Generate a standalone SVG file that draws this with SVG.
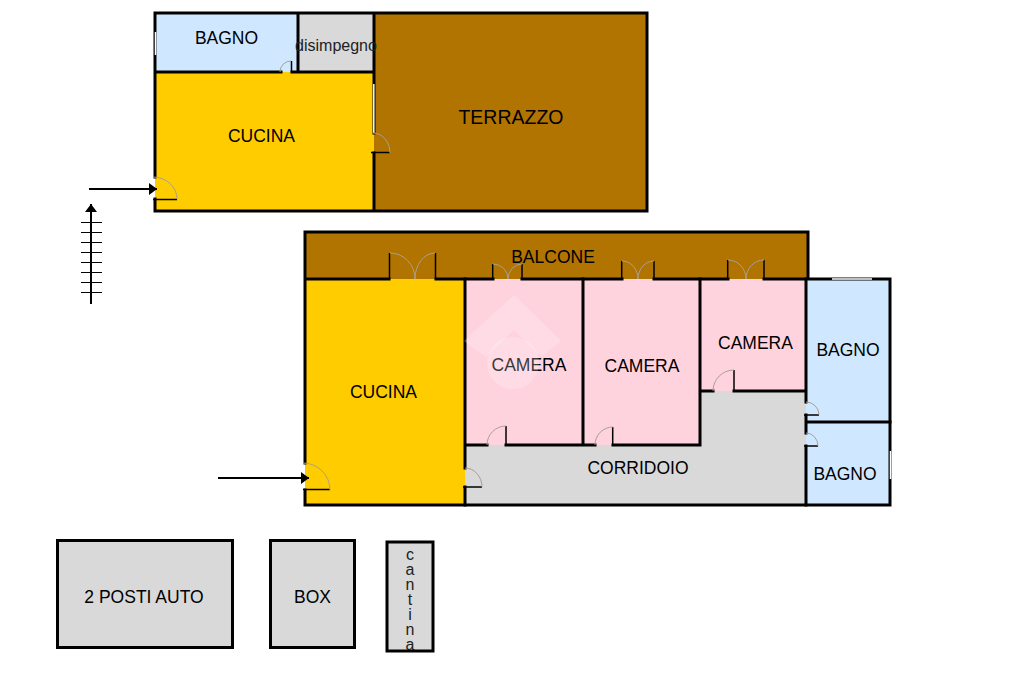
<svg xmlns="http://www.w3.org/2000/svg" width="1024" height="682" viewBox="0 0 1024 682">
<style>
text{font-family:"Liberation Sans",Arial,sans-serif;font-size:17.500px;fill:#000;text-anchor:middle}
.yellow{fill:#FFCC00}.brown{fill:#B27400}.blue{fill:#D0E8FF}.pink{fill:#FFD3DE}.grey{fill:#D9D9D9}
.wall{stroke:#000;stroke-width:3;fill:none;stroke-linecap:square}
.leaf{stroke:#000;stroke-width:1.5;fill:none}
.arc{stroke:#A8A090;stroke-width:1;fill:none}
.win{stroke:#fff;stroke-width:1.5;fill:none}
.conn{stroke:#000;stroke-width:2;fill:none}
.tick{stroke:#000;stroke-width:1;fill:none}
</style>
<defs>
<marker id="head" markerUnits="userSpaceOnUse" markerWidth="9" markerHeight="12" refX="8" refY="6" orient="auto"><path d="M0 0L8 6L0 12Z" fill="#000"/></marker>
</defs>
<rect width="1024" height="682" fill="#fff"/>

<g id="bagno-top"><rect class="blue" x="155" y="13" width="143" height="59"/><text x="226.500" y="44">BAGNO</text></g>
<g id="disimpegno-top"><rect class="grey" x="298" y="13" width="76" height="59"/></g>
<g id="cucina-top"><rect class="yellow" x="155" y="72" width="219" height="139"/><text x="261.500" y="142">CUCINA</text></g>
<g id="terrazzo"><rect class="brown" x="374" y="13" width="273" height="198"/><text x="511" y="124" style="font-size:19.500px">TERRAZZO</text></g>
<g id="balcone"><rect class="brown" x="305" y="232" width="503" height="47"/></g>
<g id="cucina"><rect class="yellow" x="305" y="279" width="160" height="226"/><text x="383.500" y="398">CUCINA</text></g>
<g id="camera-1"><rect class="pink" x="465" y="279" width="118" height="166"/><text x="529" y="371">CAMERA</text></g>
<g id="camera-2"><rect class="pink" x="583" y="279" width="117" height="166"/><text x="642" y="372">CAMERA</text></g>
<g id="camera-3"><rect class="pink" x="700" y="279" width="106" height="112"/><text x="755.500" y="349">CAMERA</text></g>
<g id="corridoio"><path class="grey" d="M465 445H700V391H806V505H465Z"/><text x="638" y="474">CORRIDOIO</text></g>
<g id="bagno-1"><rect class="blue" x="806" y="279" width="84" height="143"/><text x="848" y="356">BAGNO</text></g>
<g id="bagno-2"><rect class="blue" x="806" y="422" width="84" height="83"/><text x="845" y="480">BAGNO</text></g>
<g id="posti-auto"><rect class="grey" x="57.500" y="540.500" width="175" height="107"/><rect class="wall" x="57.500" y="540.500" width="175" height="107"/><text x="144" y="603">2 POSTI AUTO</text></g>
<g id="box"><rect class="grey" x="270.500" y="540.500" width="84" height="107"/><rect class="wall" x="270.500" y="540.500" width="84" height="107"/><text x="312.500" y="603">BOX</text></g>
<g id="cantina"><rect class="grey" x="387" y="542" width="46" height="109"/><text style="font-size:16px;fill:#222"><tspan x="410" y="559.500">c</tspan><tspan x="410" y="575">a</tspan><tspan x="410" y="590">n</tspan><tspan x="410" y="605">t</tspan><tspan x="410" y="620">i</tspan><tspan x="410" y="635">n</tspan><tspan x="410" y="650">a</tspan></text><rect class="wall" x="387" y="542" width="46" height="109"/></g>

<g id="walls-top">
<path class="wall" d="M155 177V13H647V211H155V199M298 13V72M155 72H281M292 72H374M374 13V133M374 153V211"/>
<path class="win" d="M155.500 32V55M373.800 84V133"/>
</g>
<g id="walls-bottom">
<path class="wall" d="M305 463V232H808V279M305 279H389M436 279H493M522 279H622M654 279H728M764 279H890V505H305V490"/>
<path class="wall" d="M465 279V468M465 487V505M583 279V445M700 279V391M465 445H487M506 445H595M613 445H700V391H713M734 391H806M806 279V402M806 415V433M806 446V505M806 422H890"/>
<path class="win" d="M832 279H872M890.500 451V479"/>
</g>
<g id="doors">
<path class="leaf" d="M153 199.500H177M291.500 61V72M371 152.500H390M389.500 253V279M435.500 253V279M492.700 264V279M522 264V279M621.700 261V279M654 261V279M727.700 260V279M764 260V279M506 426V445M612.700 427V445M734 370V391M463 487H482M303 489.500H330M804 415H819M804 446H818"/>
<path class="arc" d="M153 177A24 22 0 0 1 177 199M291 61A11 11 0 0 0 280 72M373 133A17 20 0 0 1 390 153M390 253A25 26 0 0 1 415 279M435 253A20 26 0 0 0 415 279M493 264A15 15 0 0 1 508 279M522 264A14 15 0 0 0 508 279M622 261A16 18 0 0 1 638 279M654 261A16 18 0 0 0 638 279M728 260A18 19 0 0 1 746 279M764 260A18 19 0 0 0 746 279M506 426A19 19 0 0 0 487 445M613 427A18 18 0 0 0 595 445M734 370A21 21 0 0 0 713 391M465 468A17 19 0 0 1 482 487M303 463A27 27 0 0 1 330 490M806 402A13 13 0 0 1 819 415M806 433A12 13 0 0 1 818 446"/>
</g>
<g id="disimpegno-label"><text x="336" y="51" style="font-size:16px;fill:#222">disimpegno</text></g>
<g id="balcone-label"><text x="553" y="263">BALCONE</text></g>
<g id="connectors">
<path class="conn" d="M89 189H157" marker-end="url(#head)"/>
<path class="conn" d="M218 478H309" marker-end="url(#head)"/>
<path class="conn" d="M91 304V204" marker-end="url(#head)"/>
<path class="tick" d="M81 222.500H102M81 232.500H102M81 242.500H102M81 252.500H102M81 262.500H102M81 272.500H102M81 282.500H102M81 292.500H102"/>
</g>
<g id="watermark" fill="#fff" fill-opacity=".22">
<path d="M514 295L561 341L541 357L514 330L486 357L464 341Z"/>
<circle cx="513" cy="363" r="26"/>
</g>
</svg>
